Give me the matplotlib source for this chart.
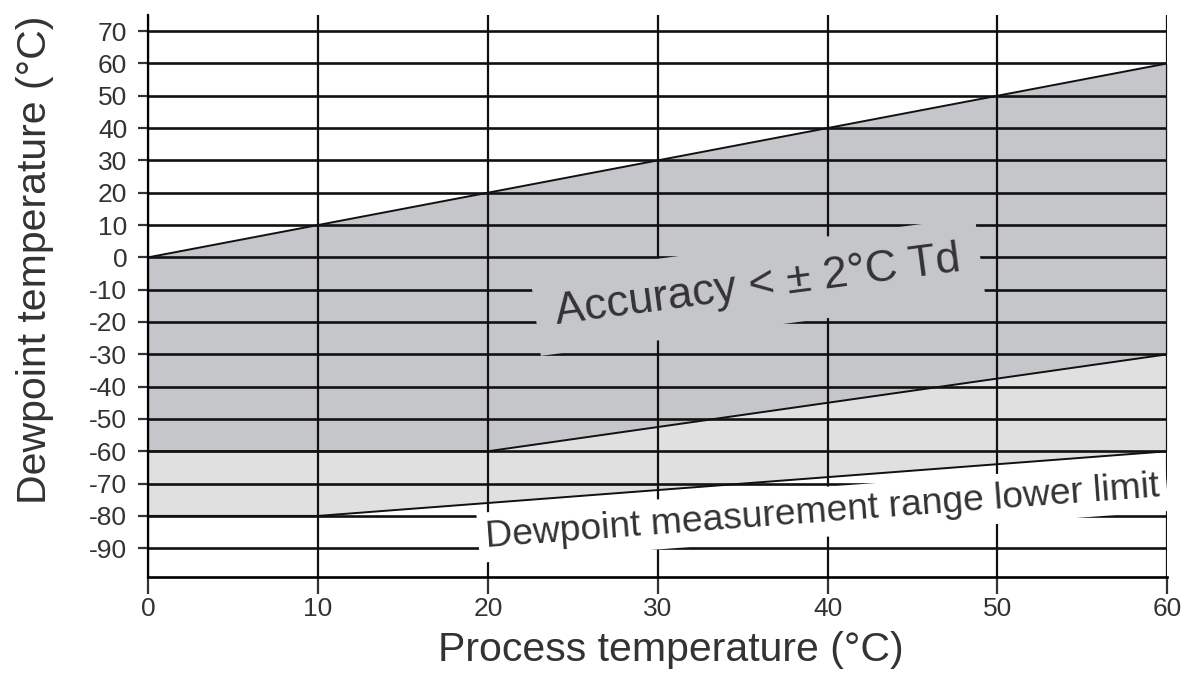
import matplotlib.pyplot as plt
import numpy as np

plt.rcParams["font.family"] = ["Liberation Sans", "DejaVu Sans"]
plt.rcParams["axes.unicode_minus"] = False

# process temperature (x) and boundary dewpoints
process_t = [0, 10, 20, 30, 40, 50, 60]
upper_acc = [0, 10, 20, 30, 40, 50, 60]          # Td = process temperature
lower_acc = [-60, -60, -60, -52.5, -45, -37.5, -30]
lower_limit = [-80, -80, -76, -72, -68, -64, -60]

x_ticks = [0, 10, 20, 30, 40, 50, 60]
y_ticks = [70, 60, 50, 40, 30, 20, 10, 0, -10, -20, -30, -40, -50, -60, -70, -80, -90]

dark_gray = "#c5c6ca"
light_gray = "#e0e0e0"
ink = "#333333"

fig = plt.figure(figsize=(11.85, 6.8), dpi=100)
ax = fig.add_axes([0.125, 0.151, 0.860, 0.827])

ax.fill_between(process_t, lower_limit, lower_acc, color=light_gray, lw=0, zorder=0)
ax.fill_between(process_t, lower_acc, upper_acc, color=dark_gray, lw=0, zorder=0)

for y in y_ticks:
    ax.plot([0, 60], [y, y], color="#111111", lw=1.9, zorder=1, solid_capstyle="butt")
for x in x_ticks:
    ax.plot([x, x], [-99, 75], color="#111111", lw=1.6, zorder=1, solid_capstyle="butt")

ax.plot(process_t, upper_acc, color="#111111", lw=1.4, zorder=3)
ax.plot(process_t, lower_acc, color="#111111", lw=1.4, zorder=3)
ax.plot(process_t, lower_limit, color="#111111", lw=1.4, zorder=3)

ax.text(35.9, -9, "Accuracy < \u00b1 2\u00b0C Td", fontsize=32, color=ink,
        rotation=7.5, ha="center", va="center", zorder=2,
        bbox=dict(boxstyle="square,pad=0.45", fc=dark_gray, ec="none"))
ax.text(39.7, -78.8, "Dewpoint measurement range lower limit", fontsize=26.8, color=ink,
        rotation=4.3, ha="center", va="center", zorder=2,
        bbox=dict(boxstyle="square,pad=0.2", fc="white", ec="none"))

ax.set_xlim(0, 60)
ax.set_ylim(-99, 75)
ax.set_xticks(x_ticks)
ax.set_yticks(y_ticks)
ax.tick_params(axis="both", labelsize=19, colors=ink, width=1.6)
ax.tick_params(axis="x", length=12, pad=2)
ax.tick_params(axis="y", length=7, pad=8)
for side in ["top", "right"]:
    ax.spines[side].set_visible(False)
ax.spines["left"].set_linewidth(1.6)
ax.spines["bottom"].set_linewidth(1.9)

ax.set_xlabel("Process temperature (\u00b0C)", fontsize=29.5, color=ink)
ax.set_ylabel("Dewpoint temperature (\u00b0C)", fontsize=29.5, color=ink)
ax.xaxis.set_label_coords(0.513, -0.096)
ax.yaxis.set_label_coords(-0.092, 0.564)

fig.savefig("out.png", dpi=100)
